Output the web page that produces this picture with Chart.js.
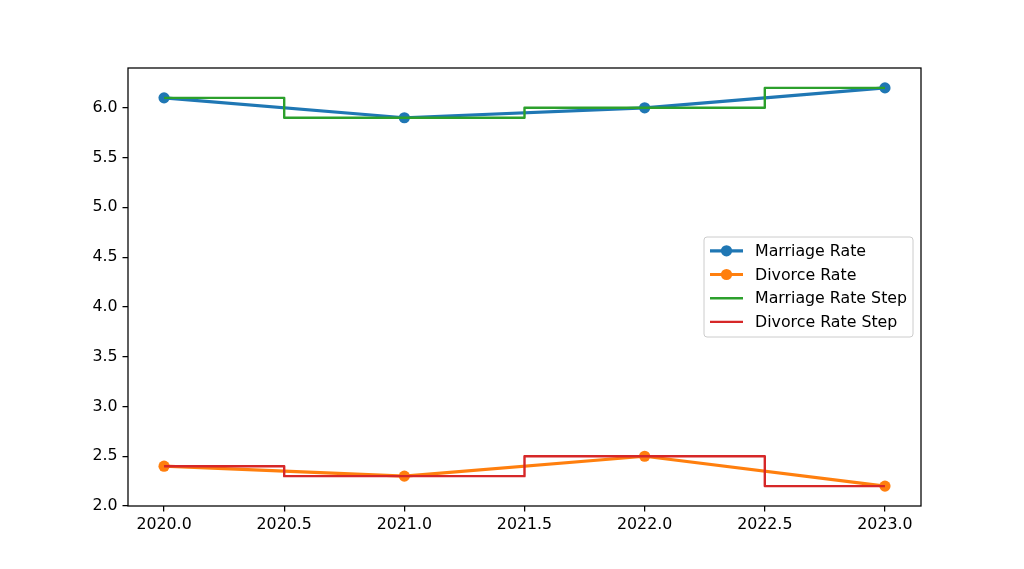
<!DOCTYPE html>
<html>
<head>
<meta charset="utf-8">
<script src="https://cdn.jsdelivr.net/npm/chart.js@4.4.0/dist/chart.umd.min.js"></script>
<style>
  html, body { margin: 0; padding: 0; background: #ffffff; }
  #wrap { width: 1024px; height: 569px; }
</style>
</head>
<body>
<div id="wrap"><canvas id="c" width="1024" height="569"></canvas></div>
<script>
// ---- data ----
const years = [2020, 2021, 2022, 2023];
const marriageRate = [6.1, 5.9, 6.0, 6.2];
const divorceRate = [2.4, 2.3, 2.5, 2.2];
const xTicks = [2020.0, 2020.5, 2021.0, 2021.5, 2022.0, 2022.5, 2023.0];
const yTicks = [2.0, 2.5, 3.0, 3.5, 4.0, 4.5, 5.0, 5.5, 6.0];
const seriesLabels = ['Marriage Rate', 'Divorce Rate', 'Marriage Rate Step', 'Divorce Rate Step'];

const C_BLUE = '#1f77b4', C_ORANGE = '#ff7f0e', C_GREEN = '#2ca02c', C_RED = '#d62728';
const FONT = 'DejaVu Sans';
const FS = 15.8;
const MR = 5.6;

function pts(vals) { return years.map((x, i) => ({ x: x, y: vals[i] })); }

const frame = {
  id: 'frame',
  afterDraw(chart) {
    const a = chart.chartArea, ctx = chart.ctx;
    ctx.save();
    ctx.strokeStyle = '#000';
    ctx.lineWidth = 1.26;
    ctx.strokeRect(a.left, a.top, a.right - a.left, a.bottom - a.top);
    ctx.restore();
  }
};

const legendBox = {
  id: 'legendBox',
  afterDatasetsDraw(chart) {
    const a = chart.chartArea, ctx = chart.ctx;
    const w = 209, h = 100;
    const x = a.right - 8 - w;
    const y = (a.top + a.bottom) / 2 - h / 2;
    ctx.save();
    ctx.beginPath();
    if (ctx.roundRect) ctx.roundRect(x, y, w, h, 3); else ctx.rect(x, y, w, h);
    ctx.fillStyle = 'rgba(255,255,255,0.8)';
    ctx.fill();
    ctx.strokeStyle = '#cccccc';
    ctx.lineWidth = 1;
    ctx.stroke();
    const dsets = chart.data.datasets;
    for (let i = 0; i < dsets.length; i++) {
      const ds = dsets[i];
      const ry = y + 13.8 + i * 23.7;
      ctx.beginPath();
      ctx.moveTo(x + 6, ry);
      ctx.lineTo(x + 39, ry);
      ctx.strokeStyle = ds.borderColor;
      ctx.lineWidth = ds.borderWidth;
      ctx.stroke();
      if (ds.pointRadius > 0) {
        ctx.beginPath();
        ctx.arc(x + 22.5, ry, ds.pointRadius, 0, Math.PI * 2);
        ctx.fillStyle = ds.borderColor;
        ctx.fill();
      }
      ctx.fillStyle = '#000';
      ctx.font = FS + 'px "' + FONT + '"';
      ctx.textBaseline = 'middle';
      ctx.textAlign = 'left';
      ctx.fillText(ds.label, x + 51, ry + 1);
    }
    ctx.restore();
  }
};

new Chart(document.getElementById('c'), {
  type: 'line',
  data: {
    datasets: [
      { label: seriesLabels[0], data: pts(marriageRate), borderColor: C_BLUE, backgroundColor: C_BLUE,
        borderWidth: 3.2, pointRadius: MR, pointHoverRadius: MR, pointBorderWidth: 0, pointBackgroundColor: C_BLUE, order: 4 },
      { label: seriesLabels[1], data: pts(divorceRate), borderColor: C_ORANGE, backgroundColor: C_ORANGE,
        borderWidth: 3.2, pointRadius: MR, pointHoverRadius: MR, pointBorderWidth: 0, pointBackgroundColor: C_ORANGE, order: 3 },
      { label: seriesLabels[2], data: pts(marriageRate), borderColor: C_GREEN, backgroundColor: C_GREEN,
        borderWidth: 2.4, pointRadius: 0, stepped: 'middle', order: 2 },
      { label: seriesLabels[3], data: pts(divorceRate), borderColor: C_RED, backgroundColor: C_RED,
        borderWidth: 2.4, pointRadius: 0, stepped: 'middle', order: 1 }
    ]
  },
  options: {
    responsive: false,
    animation: false,
    devicePixelRatio: 1,
    layout: { padding: { top: 68, right: 103, left: 0, bottom: 0 } },
    plugins: { legend: { display: false }, tooltip: { enabled: false } },
    elements: { line: { tension: 0, fill: false, borderCapStyle: 'butt', borderJoinStyle: 'round' } },
    scales: {
      x: {
        type: 'linear',
        min: 2019.85, max: 2023.15,
        afterBuildTicks: (s) => { s.ticks = xTicks.map(v => ({ value: v })); },
        afterFit: (s) => { s.height = 63; },
        ticks: { color: '#000', font: { family: FONT, size: FS }, padding: 4, maxRotation: 0, autoSkip: false,
                 callback: (v) => Number(v).toFixed(1) },
        grid: { display: true, drawOnChartArea: false, drawTicks: true, tickLength: 5.5, color: '#000', lineWidth: 1.26 },
        border: { display: false }
      },
      y: {
        type: 'linear',
        min: 2.0, max: 6.4,
        afterBuildTicks: (s) => { s.ticks = yTicks.map(v => ({ value: v })); },
        afterFit: (s) => { s.width = 128; },
        ticks: { color: '#000', font: { family: FONT, size: FS }, padding: 5, autoSkip: false,
                 callback: (v) => Number(v).toFixed(1) },
        grid: { display: true, drawOnChartArea: false, drawTicks: true, tickLength: 5.5, color: '#000', lineWidth: 1.26 },
        border: { display: false }
      }
    }
  },
  plugins: [frame, legendBox]
});
</script>
</body>
</html>
